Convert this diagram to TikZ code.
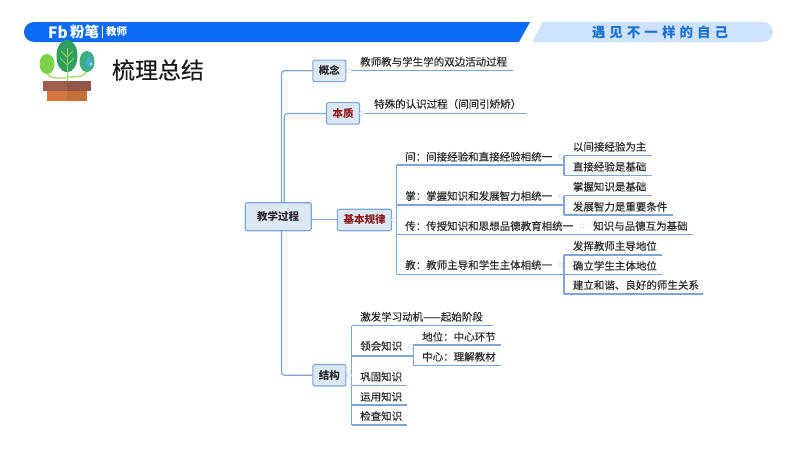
\documentclass[tikz,border=0pt]{standalone}
\usepackage{fontspec}
\setmainfont[FakeBold=0.25]{Noto Sans CJK SC}
\newfontfamily\slog[LetterSpace=30]{Noto Sans CJK SC}
\newfontfamily\hdr{Noto Sans CJK SC}
\definecolor{barblue}{HTML}{0A6CF5}
\definecolor{barlight}{HTML}{CFE2FB}
\definecolor{slogan}{HTML}{1A6FD6}
\definecolor{linkc}{HTML}{7DA6D8}
\definecolor{boxfill}{HTML}{DDE8F6}
\definecolor{inkc}{HTML}{2B2B2B}
\definecolor{redc}{HTML}{8E1C1C}
\definecolor{stemc}{HTML}{A5D96A}
\definecolor{veinc}{HTML}{96D25A}
\tikzset{
  topic/.style={draw=linkc,line width=1.1pt,fill=boxfill,rounded corners=2pt,inner sep=0pt,text=inkc,font=\fontsize{10.5}{12}\hdr\bfseries,align=center},
  redtopic/.style={topic,text=redc},
  leaf/.style={anchor=west,inner sep=0pt,text=inkc,font=\fontsize{10.5}{12}\selectfont},
  conn/.style={draw=linkc,line width=1.2pt,rounded corners=3pt},
  knob/.style={circle,draw=linkc!35,fill=white,line width=.7pt,minimum size=4.5pt,inner sep=0pt}
}
% \leafline{name}{text x}{text y}{line x0}{line x1}{line y}{text}
\newcommand{\leafline}[7]{%
  \node[leaf] (#1) at (#2,#3) {#7};
  \coordinate (#1-a) at (#4,#6);
  \coordinate (#1-b) at (#5,#6);
  \draw[conn] (#1-a) -- (#1-b);
}
\begin{document}
\begin{tikzpicture}[x=1pt,y=-1pt]
\useasboundingbox (0,0) rectangle (800,450);
\fill[white] (0,0) rectangle (800,450);
% header
\fill[barblue] (34,22) .. controls (28,22) and (24,27) .. (24,32) .. controls (24,37) and (28,42) .. (34,42) -- (519,42) -- (530,22) -- cycle;
\fill[barlight] (543,22) -- (763,22) .. controls (769,22) and (773,27) .. (773,32) .. controls (773,37) and (769,42) .. (763,42) -- (532,42) -- cycle;
\node[text=white,font=\fontsize{15.5}{16}\hdr\bfseries,inner sep=0pt] (fb) at (58,32) {Fb};
\node[text=white,font=\fontsize{14.5}{15}\hdr\bfseries,inner sep=0pt] (fen) at (84.5,32) {粉笔};
\coordinate (sepa) at (102,26); \coordinate (sepb) at (102,38);
\draw[white,line width=.5pt] (sepa) -- (sepb);
\node[text=white,font=\fontsize{10.5}{11}\hdr\bfseries,inner sep=0pt] (jiaoshi) at (116.5,32) {教师};
\node[text=slogan,font=\fontsize{13.5}{14}\slog\bfseries,inner sep=0pt] (slogan) at (660,32) {遇见不一样的自己};
% plant
\draw[stemc,line width=1.3pt] (47,72) .. controls (48,78) and (52,78) .. (67,78);
\draw[stemc,line width=1.3pt] (87,70) .. controls (86,76) and (80,77) .. (67,77);
\fill[color={rgb,255:red,122;green,209;blue,76}] (47,54) .. controls (57,54) and (57,74) .. (47,74) .. controls (37,74) and (37,54) .. (47,54) -- cycle;
\fill[color={rgb,255:red,46;green,158;blue,94}] (67,40) .. controls (81,40) and (81,72) .. (67,72) .. controls (53,72) and (53,40) .. (67,40) -- cycle;
\fill[color={rgb,255:red,62;green,176;blue,128}] (87,51) .. controls (97,51) and (97,72) .. (87,72) .. controls (77,72) and (77,51) .. (87,51) -- cycle;
\fill[color={rgb,255:red,70;green,170;blue,225}] (89,56) .. controls (93,62) and (94,66) .. (89,67) .. controls (85,67) and (85,62) .. (89,56) -- cycle;
\fill[color={rgb,255:red,190;green,240;blue,250}] (91,64) circle (1.3);
\draw[veinc,line width=1pt] (67,48) -- (67,82);
\draw[veinc,line width=.8pt] (61,51) -- (67,57) -- (73,51) (60,58) -- (67,65) -- (74,58);
\fill[color={rgb,255:red,160;green,95;blue,78}] (43,81) rectangle (67,91);
\fill[color={rgb,255:red,146;green,86;blue,72}] (67,81) rectangle (91,91);
\fill[color={rgb,255:red,214;green,118;blue,64}] (47,91) rectangle (67,101);
\fill[color={rgb,255:red,196;green,112;blue,58}] (67,91) rectangle (87,101);
% title
\node[text=black!90,font=\fontsize{23}{24}\selectfont,inner sep=0pt] (title) at (158,70) {梳理总结};
% trunks under the topic boxes
\coordinate (t1) at (281.5,210);
\coordinate (t2) at (284.3,210);
\coordinate (t3) at (281.5,225);
\coordinate (rootE) at (305,219.4);
\node[topic,minimum width=33pt,minimum height=21.5pt] (gainian) at (329.4,70.8) {概念};
\node[redtopic,minimum width=33pt,minimum height=21.5pt] (benzhi) at (343,113.4) {本质};
\node[redtopic,minimum width=54pt,minimum height=21.5pt] (guilv) at (364.5,220) {基本规律};
\node[topic,minimum width=33pt,minimum height=21.5pt] (jiegou) at (329.4,375.2) {结构};
\draw[conn] (t1) |- (gainian.west);
\draw[conn] (t2) |- (benzhi.west);
\draw[conn] (t3) |- (jiegou.west);
\draw[conn] (rootE) -- (rootE -| guilv.west);
\node[topic,minimum width=66pt,minimum height=28pt] (root) at (278.2,216.7) {教学过程};
% concept, essence
\leafline{l1}{360}{61.7}{346}{512.7}{70.7}{教师教与学生学的双边活动过程}
\leafline{l2}{374}{104}{359.5}{526.7}{113.3}{特殊的认识过程（间间引矫矫）}
\node[knob] (k1) at (349,70.7) {};
\node[knob] (k2) at (362,113.3) {};
% laws
\coordinate (ja) at (396.7,165);
\coordinate (jb) at (396.7,274.3);
\draw[conn] (jb) -- (ja);
\draw[conn] (guilv.east) -- (guilv.east -| ja);
\node[knob] (k3) at (394,220) {};
\leafline{a1}{405}{156.7}{396.7}{564}{165}{间：间接经验和直接经验相统一}
\leafline{a2}{405}{196}{396.7}{564}{205}{掌：掌握知识和发展智力相统一}
\leafline{a3}{405}{226}{396.7}{693}{234.7}{传：传授知识和思想品德教育相统一}
\leafline{a4}{405}{265}{396.7}{564}{274.3}{教：教师主导和学生主体相统一}
\node[leaf] (a3x) at (593,226) {知识与品德互为基础};
\node[knob] (k5) at (561,156.7) {};
\node[knob] (k6) at (561,196) {};
\node[knob] (k7) at (582,226) {};
\node[knob] (k8) at (561,265) {};
\leafline{b1}{572.7}{146.7}{564}{651.7}{155.5}{以间接经验为主}
\leafline{b2}{572.7}{166.7}{564}{651.7}{175.3}{直接经验是基础}
\draw[conn] (b1-a) -- (b2-a);
\leafline{b3}{572.7}{186.7}{564}{651.7}{195.7}{掌握知识是基础}
\leafline{b4}{572.7}{206.7}{564}{673}{215}{发展智力是重要条件}
\draw[conn] (b3-a) -- (b4-a);
\leafline{b5}{572.7}{246}{564}{662}{255}{发挥教师主导地位}
\leafline{b6}{572.7}{265.7}{564}{662}{274.7}{确立学生主体地位}
\leafline{b7}{572.7}{285}{564}{703}{294}{建立和谐、良好的师生关系}
\draw[conn] (b5-a) -- (b7-a);
% structure
\leafline{c1}{360}{316.7}{351.7}{493}{325.7}{激发学习动机——起始阶段}
\leafline{c2}{360}{346}{351.7}{413.3}{356}{领会知识}
\leafline{c3}{360}{376.7}{351.7}{407}{385.3}{巩固知识}
\leafline{c4}{360}{396.7}{351.7}{407}{405}{运用知识}
\leafline{c5}{360}{416}{351.7}{407}{425}{检查知识}
\draw[conn] (c1-a) -- (c5-a);
\draw[conn] (jiegou.east) -- (jiegou.east -| c1-a);
\node[knob] (k4) at (349.3,375.2) {};
\leafline{d1}{422}{336.7}{413.3}{500.7}{345}{地位：中心环节}
\leafline{d2}{422}{356.7}{413.3}{500.7}{365.7}{中心：理解教材}
\draw[conn] (d1-a) -- (d2-a);
\node[knob] (k9) at (410.7,346.7) {};
\end{tikzpicture}
\end{document}
